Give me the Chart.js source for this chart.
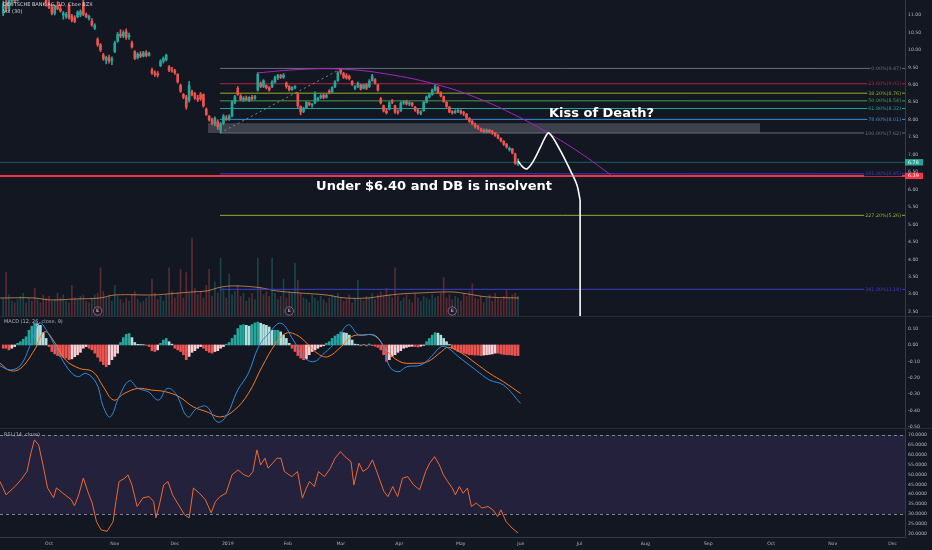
<!DOCTYPE html>
<html>
<head>
<meta charset="utf-8">
<script src="https://cdn.jsdelivr.net/npm/chart.js@4.4.1/dist/chart.umd.min.js"></script>
<style>
  html, body { margin: 0; padding: 0; background: #131722; }
  #wrap { position: relative; width: 932px; height: 550px; overflow: hidden; background: #131722; }
  canvas { position: absolute; left: 0; }
  .sep { position: absolute; left: 0; width: 932px; height: 1px; background: #2a2e39; }
</style>
</head>
<body>
<div id="wrap">
  <canvas id="main" width="932" height="317" style="top:0"></canvas>
  <canvas id="macd" width="932" height="112" style="top:317px"></canvas>
  <canvas id="rsi" width="932" height="121" style="top:429px"></canvas>
  <div class="sep" style="top:316px"></div>
  <div class="sep" style="top:428px"></div>
</div>
<script>
// bar index: 0 = first trading day of Oct 2018
const firstBar = -16;

// daily candles [open, high, low, close], Sep 2018 .. end of May 2019
const ohlc = [
  [11.05,11.40,10.98,11.32],[11.30,11.45,11.10,11.18],[11.18,11.50,11.12,11.42],[11.40,11.60,11.30,11.55],
  [11.55,11.70,11.35,11.40],[11.42,11.75,11.40,11.68],[11.70,11.90,11.62,11.82],[11.82,12.05,11.75,11.98],
  [11.98,12.10,11.80,11.85],[11.85,12.00,11.70,11.92],[11.92,12.08,11.78,11.80],[11.80,11.95,11.62,11.70],
  [11.70,11.85,11.55,11.78],[11.78,11.90,11.60,11.65],[11.65,11.80,11.48,11.60],[11.55,11.62,11.25,11.32],
  // Oct 2018
  [11.32,11.42,11.18,11.22],[11.22,11.30,11.00,11.05],[11.05,11.28,11.00,11.25],[11.28,11.38,11.15,11.18],
  [11.18,11.30,11.08,11.12],[11.00,11.10,10.88,11.05],[10.95,11.08,10.90,11.02],[11.28,11.32,10.88,10.92],
  [10.98,11.02,10.80,10.85],[10.92,10.98,10.78,10.82],[10.95,11.12,10.92,11.08],[11.00,11.15,10.95,11.10],
  [11.30,11.42,10.98,11.02],[11.02,11.06,10.92,10.95],[10.90,11.00,10.85,10.96],[10.82,10.90,10.68,10.72],
  [10.62,10.75,10.58,10.70],[10.30,10.35,10.10,10.15],[10.15,10.18,9.95,10.00],[9.85,9.90,9.70,9.75],
  [9.70,9.82,9.60,9.78],[9.78,9.85,9.62,9.68],[9.70,9.80,9.58,9.74],
  // Nov 2018
  [9.95,10.25,9.92,10.20],[10.25,10.50,10.22,10.45],[10.45,10.58,10.35,10.40],[10.40,10.55,10.35,10.50],
  [10.52,10.60,10.30,10.36],[10.38,10.48,10.30,10.42],[10.20,10.25,10.05,10.08],[9.95,9.98,9.72,9.76],
  [9.78,9.92,9.74,9.88],[9.88,9.95,9.78,9.82],[9.82,9.96,9.80,9.92],[9.92,9.98,9.80,9.84],
  [9.84,9.94,9.82,9.90],[9.42,9.48,9.30,9.34],[9.34,9.40,9.24,9.30],[9.32,9.38,9.22,9.28],
  [9.55,9.72,9.52,9.68],[9.68,9.80,9.62,9.76],[9.72,9.88,9.68,9.85],[9.52,9.55,9.38,9.42],
  [9.42,9.50,9.36,9.40],
  // Dec 2018
  [9.40,9.44,9.30,9.35],[9.30,9.32,9.05,9.08],[8.98,9.02,8.78,8.82],[8.72,8.75,8.60,8.65],
  [8.65,8.70,8.30,8.36],[8.55,9.10,8.50,8.98],[8.80,8.85,8.68,8.72],[8.75,8.78,8.58,8.62],
  [8.62,8.70,8.52,8.58],[8.72,8.78,8.55,8.60],[8.72,8.74,8.36,8.40],[8.30,8.34,8.12,8.15],
  [8.10,8.12,7.96,8.00],[8.00,8.05,7.85,7.90],[7.88,8.08,7.82,8.04],[7.95,8.00,7.72,7.80],
  [7.70,7.92,7.62,7.88],[7.90,8.15,7.86,8.10],[8.05,8.12,7.98,8.02],
  // Jan 2019
  [8.02,8.14,7.98,8.10],[8.10,8.55,8.08,8.50],[8.50,8.70,8.45,8.66],[8.90,8.95,8.70,8.72],
  [8.68,8.72,8.55,8.58],[8.58,8.66,8.52,8.62],[8.62,8.68,8.55,8.58],[8.56,8.66,8.52,8.64],
  [8.64,8.70,8.56,8.60],[8.62,8.70,8.58,8.66],[8.85,9.35,8.82,9.30],[9.05,9.08,8.92,8.95],
  [8.95,9.15,8.92,9.12],[8.98,9.00,8.88,8.92],[8.92,8.95,8.82,8.85],[8.95,9.12,8.92,9.08],
  [9.08,9.25,9.05,9.20],[9.20,9.30,9.15,9.26],[9.26,9.30,9.18,9.22],[9.22,9.32,9.18,9.28],
  [9.05,9.08,8.90,8.95],
  // Feb 2019
  [8.95,8.98,8.82,8.86],[8.86,8.95,8.84,8.92],[8.92,8.98,8.88,8.96],[8.75,8.78,8.35,8.40],
  [8.38,8.40,8.14,8.22],[8.24,8.36,8.20,8.32],[8.34,8.52,8.32,8.50],[8.48,8.50,8.40,8.44],
  [8.42,8.46,8.36,8.42],[8.48,8.80,8.46,8.76],[8.56,8.64,8.54,8.62],[8.64,8.72,8.60,8.68],
  [8.70,8.74,8.60,8.64],[8.64,8.74,8.62,8.70],[8.82,8.86,8.74,8.78],[8.80,8.95,8.78,8.92],
  [8.94,9.12,8.92,9.08],[9.12,9.38,9.10,9.34],[9.44,9.47,9.30,9.36],
  // Mar 2019
  [9.32,9.36,9.18,9.22],[9.26,9.32,9.16,9.20],[9.24,9.28,9.14,9.18],[9.10,9.12,8.98,9.02],
  [8.90,8.98,8.86,8.95],[8.95,9.08,8.92,9.05],[9.00,9.02,8.85,8.88],[8.90,9.02,8.88,9.00],
  [9.00,9.04,8.86,8.90],[8.95,9.15,8.92,9.10],[9.12,9.30,9.10,9.25],[9.15,9.18,9.02,9.05],
  [9.00,9.02,8.82,8.85],[8.60,8.64,8.45,8.48],[8.40,8.42,8.22,8.25],[8.25,8.30,8.16,8.20],
  [8.30,8.52,8.28,8.48],[8.52,8.58,8.46,8.50],[8.40,8.42,8.18,8.22],[8.22,8.28,8.16,8.20],
  [8.25,8.52,8.24,8.48],
  // Apr 2019
  [8.48,8.55,8.44,8.50],[8.52,8.56,8.42,8.45],[8.45,8.52,8.40,8.48],[8.48,8.50,8.38,8.42],
  [8.36,8.38,8.24,8.28],[8.28,8.30,8.16,8.20],[8.18,8.26,8.14,8.22],[8.26,8.52,8.24,8.50],
  [8.50,8.68,8.48,8.65],[8.65,8.76,8.62,8.72],[8.72,8.88,8.70,8.85],[8.85,9.00,8.82,8.95],
  [8.92,8.95,8.75,8.78],[8.78,8.80,8.65,8.68],[8.66,8.68,8.50,8.52],[8.50,8.52,8.35,8.38],
  [8.36,8.38,8.20,8.22],[8.22,8.26,8.16,8.20],[8.20,8.28,8.18,8.24],[8.24,8.30,8.20,8.25],
  [8.25,8.28,8.16,8.20],
  // May 2019
  [8.20,8.24,8.12,8.18],[8.16,8.18,8.02,8.05],[8.04,8.06,7.92,7.95],[7.95,7.98,7.85,7.88],
  [7.86,7.90,7.76,7.80],[7.80,7.84,7.72,7.76],[7.74,7.76,7.66,7.70],[7.70,7.74,7.62,7.66],
  [7.64,7.74,7.62,7.70],[7.70,7.72,7.62,7.65],[7.66,7.70,7.58,7.62],[7.62,7.64,7.52,7.55],
  [7.55,7.58,7.45,7.48],[7.46,7.48,7.36,7.40],[7.38,7.40,7.26,7.30],[7.30,7.32,7.18,7.22],
  [7.14,7.22,7.10,7.18],[7.16,7.18,7.02,7.05],[7.02,7.04,6.72,6.75],[6.72,6.88,6.68,6.78]
];

// daily volume, millions of shares
const volumes = [
  12,28,14,10,9,11,13,15,9,12,10,18,11,9,14,12,
  13,10,11,15,12,14,10,9,20,12,  11,13,14,10,9,12,14,15,31,16,
  12,14,10,20,13,11,9,12,10,14,  16,11,9,10,12,13,24,15,11,13,
  10,14,31,16,12,15,30,12,28,15, 50,18,14,16,12,20,30,13,22,15,
  37,18,12,27,14,16,20,13,15,10, 12,15,11,37,19,14,16,13,37,15,
  11,13,24,12,16,15,34,23,15,12, 11,9,14,12,10,13,11,9,12,14,
  13,15,12,10,11,14,9,12,23,11,  10,13,12,15,11,14,16,13,18,14,
  12,31,13,10,12,14,11,9,15,12,  10,13,12,11,14,12,13,15,25,12,
  14,11,13,12,10,15,13,16,21,12, 11,13,9,12,14,10,15,12,11,13,
  17,12,14,15,13
];

// Vol (30) moving average, read as [bar, value]
const volumeMA = [
  [-17.1,12.0],[-5.2,12.0],[0.3,10.8],[9.8,11.4],[17.8,12.0],[23.1,13.9],[36.4,13.9],[42.0,14.6],
  [50.0,15.8],[55.2,16.5],[60.5,19.0],[66.1,19.6],[74.1,18.4],[79.4,16.5],[87.4,15.2],[96.9,13.9],
  [103.5,12.0],[111.5,12.0],[116.8,13.3],[123.4,14.6],[130.1,15.2],[140.9,15.8],[146.2,14.6],
  [153.1,12.7],[164.3,12.0]
];

// MACD (12, 26, close, 9) histogram, one value per bar
const macdHist = [
  -0.02,-0.02,-0.03,-0.02,-0.01,0.01,0.02,0.035,0.05,0.09,0.115,0.133,0.13,0.12,0.075,0.04,
  -0.01,-0.04,-0.055,-0.065,-0.07,-0.075,-0.08,-0.09,-0.085,-0.072,
  -0.06,-0.045,-0.02,-0.01,-0.02,-0.03,-0.05,-0.075,-0.10,-0.12,
  -0.133,-0.12,-0.09,-0.07,-0.05,0.015,0.045,0.065,0.07,0.045,
  0.015,0.004,0.003,0.002,-0.002,-0.01,-0.035,-0.04,-0.03,0.01,
  0.03,0.04,0.02,0.005,-0.02,-0.03,-0.04,-0.06,-0.09,-0.07,
  -0.045,-0.035,-0.02,-0.01,-0.02,-0.035,-0.045,-0.05,-0.04,-0.035,
  -0.02,-0.01,0.005,0.015,0.04,0.06,0.10,0.12,0.124,0.12,
  0.115,0.125,0.135,0.14,0.133,0.125,0.12,0.11,0.09,0.09,
  0.09,0.08,0.06,0.04,0.01,-0.02,-0.04,-0.065,-0.08,-0.09,
  -0.085,-0.06,-0.04,-0.03,-0.02,-0.01,-0.005,0.01,0.02,0.04,
  0.055,0.065,0.08,0.075,0.072,0.06,0.03,0.005,0.003,-0.005,
  0.004,-0.006,0.006,-0.004,-0.008,-0.015,-0.03,-0.06,-0.10,-0.09,
  -0.07,-0.06,-0.045,-0.035,-0.02,-0.015,-0.01,-0.008,-0.01,-0.012,
  -0.008,-0.003,0.02,0.04,0.06,0.075,0.072,0.06,0.04,0.02,
  0.003,-0.02,-0.03,-0.04,-0.045,-0.05,-0.055,-0.06,-0.06,-0.062,
  -0.062,-0.065,-0.062,-0.06,-0.058,-0.055,-0.05,-0.05,-0.055,-0.058,
  -0.06,-0.06,-0.062,-0.065,-0.065
];

// MACD and signal lines, read as [bar, value]
const macdLine = [
  [-17.1,-0.128],[-13.5,-0.153],[-9.9,-0.123],[-6.3,0.010],[-3.3,0.133],[-0.3,0.072],[3.4,-0.051],
  [7.0,-0.153],[10.0,-0.194],[13.0,-0.174],[16.6,-0.235],[19.0,-0.378],[21.4,-0.440],[24.5,-0.317],
  [28.1,-0.219],[31.1,-0.266],[34.7,-0.286],[38.3,-0.337],[41.3,-0.266],[44.3,-0.297],[48.5,-0.440],
  [51.6,-0.389],[55.2,-0.378],[58.8,-0.470],[61.8,-0.440],[66.0,-0.276],[69.7,-0.174],[73.3,-0.010],
  [76.9,0.072],[81.1,0.133],[85.4,0.031],[89.0,-0.072],[92.6,-0.102],[96.2,-0.051],[100.4,0.020],
  [104.6,0.123],[108.3,0.061],[113.1,0.061],[116.7,0.000],[119.1,-0.133],[122.1,-0.164],[125.1,-0.133],
  [130.0,-0.123],[133.6,-0.072],[137.2,-0.010],[139.6,-0.020],[143.2,-0.072],[149.2,-0.153],
  [154.1,-0.215],[158.9,-0.245],[164.9,-0.358]
];
const signalLine = [
  [-17.1,-0.112],[-13.5,-0.157],[-9.9,-0.143],[-5.1,-0.031],[-1.5,0.081],[2.2,0.010],[5.8,-0.092],
  [10.6,-0.143],[15.4,-0.164],[19.0,-0.256],[22.6,-0.337],[26.3,-0.297],[31.1,-0.266],[35.9,-0.276],
  [40.7,-0.286],[45.5,-0.317],[50.4,-0.378],[55.2,-0.409],[60.0,-0.440],[64.8,-0.399],[69.7,-0.297],
  [74.5,-0.133],[79.3,0.010],[82.9,0.072],[86.6,0.061],[90.2,0.010],[93.8,-0.051],[97.4,-0.072],
  [102.2,-0.010],[105.8,0.051],[109.4,0.061],[114.3,0.055],[117.9,-0.031],[122.7,-0.102],
  [127.6,-0.112],[132.4,-0.102],[137.2,-0.041],[139.6,-0.014],[144.4,-0.051],[149.2,-0.112],
  [154.1,-0.174],[158.9,-0.225],[164.9,-0.297]
];

// RSI (14, close), read as [bar, value]
const rsiLine = [
  [-17.1,46.4],[-15.0,39.7],[-11.9,43.9],[-9.8,47.3],[-7.7,51.5],[-6.3,60.9],[-5.1,67.5],[-3.6,64.9],
  [-2.1,54.8],[-0.5,43.2],[1.6,38.2],[2.6,43.2],[4.7,40.7],[7.8,37.2],[8.9,34.1],[10.4,39.7],[12.0,48.2],
  [13.6,41.2],[15.1,35.6],[16.6,26.1],[18.2,22.0],[20.3,21.2],[22.4,26.1],[23.4,36.3],[24.5,46.4],
  [26.6,48.2],[27.6,49.8],[29.0,44.7],[30.8,33.8],[32.9,38.2],[35.0,38.8],[36.6,36.3],[37.4,28.1],
  [38.6,34.6],[40.1,44.7],[41.6,46.4],[43.2,39.7],[45.3,34.6],[47.4,29.6],[49.0,28.0],[50.5,43.1],
  [52.6,40.5],[54.7,37.2],[56.7,30.6],[58.2,36.3],[59.8,38.8],[61.9,40.5],[64.0,49.8],[66.1,52.3],
  [68.2,49.8],[69.9,48.9],[71.3,51.5],[72.7,62.4],[74.0,54.8],[75.5,58.2],[76.6,53.2],[78.2,55.7],
  [79.7,58.2],[81.1,58.2],[82.3,51.5],[84.9,48.9],[86.9,51.5],[88.6,38.0],[90.0,43.1],[91.1,46.4],
  [92.8,43.9],[94.2,51.5],[96.3,48.9],[98.4,53.2],[100.0,58.2],[101.9,61.6],[103.5,59.0],[105.6,56.5],
  [106.6,44.7],[108.4,55.7],[109.8,51.5],[111.5,53.2],[113.1,57.4],[114.8,50.7],[117.1,41.4],
  [118.5,38.8],[120.2,43.9],[121.9,38.8],[123.6,48.1],[125.4,48.9],[127.5,44.7],[129.6,42.2],
  [131.7,51.5],[133.1,55.7],[134.8,59.0],[136.5,54.8],[137.9,49.8],[139.4,46.4],[141.0,43.1],
  [142.1,39.7],[143.5,43.9],[144.8,40.5],[146.3,43.1],[147.7,33.8],[149.4,35.5],[151.4,33.0],
  [153.5,33.8],[155.2,32.1],[156.9,28.7],[158.0,32.1],[159.8,26.2],[161.9,22.9],[164.0,20.4]
];

// axis ticks
const monthTicks = [0, 23, 44, 62.5, 83.5, 102, 122.5, 144, 165, 185.5, 208.5, 230.5, 252.5, 274, 295];
const monthLabels = ['Oct','Nov','Dec','2019','Feb','Mar','Apr','May','Jun','Jul','Aug','Sep','Oct','Nov','Dec'];
const priceTicks = [2.5,3,3.5,4,4.5,5,5.5,6,6.5,7,7.5,8,8.5,9,9.5,10,10.5,11];
const macdTicks = [0.1,0,-0.1,-0.2,-0.3,-0.4,-0.5];
const rsiTicks = [70,65,60,55,50,45,40,35,30,25,20];

// Fibonacci retracement drawn from the Dec low to the Mar high
const fibPct = ['0.00%','23.60%','38.20%','50.00%','61.80%','78.60%','100.00%','161.80%','227.20%','341.80%'];
const fibLevels = [9.47, 9.03, 8.76, 8.54, 8.32, 8.01, 7.62, 6.45, 5.26, 3.14];
const fibColors = ['#6a6d78','#b02445','#93b02c','#45a04a','#22a596','#3f8fd6','#6a6d78','#3b3fd0','#93b02c','#3b3fd0'];
const fibStart = 59.8;
const fibTrend = [[59.8, 7.62], [102.4, 9.47]];

// drawings
const supportZone = { from: 55.6, to: 248.6, low: 7.62, high: 7.90 };
const arcPoints = [[72.7,9.34],[87.8,9.44],[101.7,9.45],[115.7,9.34],[135.0,9.02],[150.7,8.59],
                   [165.7,8.02],[174.5,7.62],[185.7,7.05],[196.9,6.39]];
const pathPoints = [[164.0,6.82],[165.7,6.64],[167.1,6.59],[169.2,6.79],[171.7,7.19],[173.4,7.48],
                    [174.8,7.62],[178.7,7.13],[182.2,6.56],[184.6,6.13],[185.7,5.70]];
const dropPoints = [[185.7,5.70],[185.7,2.0]];
const insolvency = 6.39;
const lastClose = 6.78;
const earningsBars = [17, 84, 141];
const notes = [
  { text: 'Kiss of Death?', bar: 174.8, price: 8.18 },
  { text: 'Under $6.40 and DB is insolvent', bar: 93.4, price: 6.08 }
];

const xMin = -17.13, xMax = 299.3;
const FONT = 'DejaVu Sans';
const up = '#26a69a', down = '#ef5350';

const bars = ohlc.map((d, k) => firstBar + k);
const candleColors = ohlc.map(d => d[3] >= d[0] ? up : down);
const volColors = ohlc.map(d => d[3] >= d[0] ? 'rgba(38,166,154,0.32)' : 'rgba(239,83,80,0.32)');
const pts = arr => arr.map(p => ({ x: p[0], y: p[1] }));
const hline = (v, from) => [{ x: from, y: v }, { x: xMax, y: v }];

function rightAxis(min, max, tickValues, digits) {
  return {
    position: 'right', min: min, max: max,
    afterBuildTicks: s => { s.ticks = tickValues.map(v => ({ value: v })); },
    afterFit: s => { s.width = 27; s.paddingTop = 0; s.paddingBottom = 0; },
    grid: { display: false, drawTicks: false },
    border: { display: true, color: '#363a45' },
    ticks: { color: '#b2b5be', font: { family: FONT, size: 4.6 }, padding: 3, autoSkip: false,
             callback: v => Number(v).toFixed(digits) }
  };
}

function xAxis(show) {
  return {
    type: 'linear', min: xMin, max: xMax, display: show, offset: false,
    afterBuildTicks: s => { s.ticks = monthTicks.map(v => ({ value: v })); },
    afterFit: s => { if (show) s.height = 13; s.paddingLeft = 0; s.paddingRight = 0; },
    grid: { display: false, drawTicks: false },
    border: { display: show, color: '#363a45' },
    ticks: { color: '#b2b5be', font: { family: FONT, size: 4.6 }, padding: 4, maxRotation: 0,
             autoSkip: false, callback: (v, i) => monthLabels[i] }
  };
}

const baseOptions = {
  responsive: false,
  animation: false,
  events: [],
  layout: { padding: 0 },
  plugins: { legend: { display: false }, tooltip: { enabled: false } },
  datasets: { bar: { grouped: false }, line: { pointRadius: 0 } }
};

function paneTitle(ctx, lines) {
  ctx.save();
  ctx.font = '5px "' + FONT + '"';
  ctx.textBaseline = 'middle';
  ctx.textAlign = 'left';
  lines.forEach(l => { ctx.fillStyle = l.color; ctx.fillText(l.text, l.x, l.y); });
  ctx.restore();
}

const mainDecor = {
  id: 'mainDecor',
  beforeDatasetsDraw(chart) {
    const { ctx, chartArea: a, scales: { x, y } } = chart;
    ctx.save();
    ctx.beginPath(); ctx.rect(a.left, a.top, a.width, a.height); ctx.clip();
    const x0 = x.getPixelForValue(supportZone.from), x1 = x.getPixelForValue(supportZone.to);
    const y0 = y.getPixelForValue(supportZone.high), y1 = y.getPixelForValue(supportZone.low);
    ctx.fillStyle = 'rgba(120,123,134,0.42)';
    ctx.fillRect(x0, y0, x1 - x0, y1 - y0);
    ctx.restore();
  },
  afterDatasetsDraw(chart) {
    const { ctx, chartArea: a, scales: { x, y } } = chart;
    ctx.save();
    // fib labels
    ctx.font = '4.8px "' + FONT + '"';
    ctx.textAlign = 'right';
    ctx.textBaseline = 'middle';
    fibLevels.forEach((lv, k) => {
      const t = fibPct[k] + '(' + lv.toFixed(2) + ')';
      const py = y.getPixelForValue(lv);
      const w = ctx.measureText(t).width;
      ctx.fillStyle = '#131722';
      ctx.fillRect(a.right - 4 - w - 1, py - 2.5, w + 2, 5);
      ctx.fillStyle = fibColors[k];
      ctx.fillText(t, a.right - 4, py + 0.3);
    });
    // earnings markers
    earningsBars.forEach(b => {
      const px = x.getPixelForValue(b), py = a.bottom - 6;
      ctx.beginPath(); ctx.arc(px, py, 4.2, 0, Math.PI * 2);
      ctx.fillStyle = '#1c1d29'; ctx.fill();
      ctx.strokeStyle = 'rgba(170,110,150,0.8)'; ctx.lineWidth = 1; ctx.stroke();
      ctx.fillStyle = '#b99ab0'; ctx.font = 'bold 4.5px "' + FONT + '"'; ctx.textAlign = 'center';
      ctx.fillText('E', px, py + 0.3);
    });
    // annotations
    ctx.font = 'bold 13px "' + FONT + '"';
    ctx.textAlign = 'left';
    ctx.fillStyle = '#ffffff';
    notes.forEach(n => ctx.fillText(n.text, x.getPixelForValue(n.bar), y.getPixelForValue(n.price)));
    ctx.restore();
  },
  afterDraw(chart) {
    const { ctx, chartArea: a, scales: { y } } = chart;
    ctx.save();
    ctx.font = '4.8px "' + FONT + '"';
    ctx.textBaseline = 'middle';
    ctx.textAlign = 'left';
    [[lastClose, up], [insolvency, '#f23645']].forEach(([v, c]) => {
      const py = y.getPixelForValue(v);
      ctx.fillStyle = c;
      ctx.fillRect(a.right, py - 3.2, 18, 6.4);
      ctx.fillStyle = '#ffffff';
      ctx.fillText(v.toFixed(2), a.right + 3, py + 0.3);
    });
    ctx.restore();
    paneTitle(ctx, [
      { text: 'DEUTSCHE BANK AG, 1D, Cboe BZX', x: 3, y: 5, color: '#d1d4dc' },
      { text: 'Vol (30)', x: 3, y: 11.5, color: '#d1d4dc' }
    ]);
  }
};

const mainDatasets = [
  { type: 'bar', yAxisID: 'yv', order: 9, barThickness: 1,
    data: volumes.map((v, k) => ({ x: bars[k], y: v })), backgroundColor: volColors },
  { type: 'line', yAxisID: 'yv', order: 8, borderColor: 'rgba(210,140,90,0.8)', borderWidth: 1,
    tension: 0.4, data: pts(volumeMA) },
  ...fibLevels.map((lv, k) => ({ type: 'line', order: 7, borderColor: fibColors[k], borderWidth: 1,
    data: hline(lv, fibStart) })),
  { type: 'line', order: 6, borderColor: 'rgba(38,166,154,0.5)', borderWidth: 1,
    data: hline(lastClose, xMin) },
  { type: 'line', order: 5, borderColor: 'rgba(150,155,165,0.8)', borderWidth: 1, borderDash: [2, 3],
    data: pts(fibTrend) },
  { type: 'bar', order: 4, barThickness: 1, backgroundColor: candleColors,
    data: ohlc.map((d, k) => ({ x: bars[k], y: [d[2], d[1]] })) },
  { type: 'bar', order: 3, barThickness: 2, minBarLength: 1, backgroundColor: candleColors,
    data: ohlc.map((d, k) => ({ x: bars[k], y: [d[0], d[3]] })) },
  { type: 'line', order: 2, borderColor: '#f23645', borderWidth: 2, data: hline(insolvency, xMin) },
  { type: 'line', order: 1, borderColor: '#a624c4', borderWidth: 1, tension: 0.4, data: pts(arcPoints) },
  { type: 'line', order: 0, borderColor: '#ffffff', borderWidth: 1.6, tension: 0.35, data: pts(pathPoints) },
  { type: 'line', order: 0, borderColor: '#ffffff', borderWidth: 1.6, data: pts(dropPoints) }
];

new Chart(document.getElementById('main'), {
  type: 'bar',
  data: { datasets: mainDatasets },
  options: Object.assign({}, baseOptions, {
    scales: {
      x: xAxis(false),
      y: rightAxis(2.347, 11.43, priceTicks, 2),
      yv: { display: false, min: 0, max: 200 }
    }
  }),
  plugins: [mainDecor]
});

// MACD pane
const histColors = macdHist.map((v, k) => {
  const prev = k > 0 ? macdHist[k - 1] : v;
  if (v >= 0) return v >= prev ? '#26a69a' : '#b2dfdb';
  return v <= prev ? '#ef5350' : '#ffcdd2';
});

new Chart(document.getElementById('macd'), {
  type: 'bar',
  data: {
    datasets: [
      { type: 'bar', order: 2, barThickness: 2, backgroundColor: histColors,
        data: macdHist.map((v, k) => ({ x: bars[k], y: v })) },
      { type: 'line', order: 1, borderColor: '#ff7a1a', borderWidth: 1, tension: 0.4, data: pts(signalLine) },
      { type: 'line', order: 0, borderColor: '#2a8ee6', borderWidth: 1, tension: 0.4, data: pts(macdLine) }
    ]
  },
  options: Object.assign({}, baseOptions, {
    scales: { x: xAxis(false), y: rightAxis(-0.514, 0.171, macdTicks, 2) }
  }),
  plugins: [{
    id: 'macdTitle',
    afterDraw(chart) {
      paneTitle(chart.ctx, [{ text: 'MACD (12, 26, close, 9)', x: 4, y: 5, color: '#b2b5be' }]);
    }
  }]
});

// RSI pane
new Chart(document.getElementById('rsi'), {
  type: 'line',
  data: {
    datasets: [
      { borderColor: '#f0692f', borderWidth: 1, tension: 0, data: pts(rsiLine) }
    ]
  },
  options: Object.assign({}, baseOptions, {
    scales: { x: xAxis(true), y: rightAxis(18.35, 73.0, rsiTicks, 4) }
  }),
  plugins: [{
    id: 'rsiBand',
    beforeDatasetsDraw(chart) {
      const { ctx, chartArea: a, scales: { y } } = chart;
      const top = y.getPixelForValue(70), bot = y.getPixelForValue(30);
      ctx.save();
      ctx.fillStyle = 'rgba(126,87,194,0.16)';
      ctx.fillRect(a.left, top, a.width, bot - top);
      ctx.strokeStyle = 'rgba(178,181,190,0.7)';
      ctx.setLineDash([3, 3]);
      ctx.lineWidth = 1;
      [top, bot].forEach(py => {
        ctx.beginPath(); ctx.moveTo(a.left, Math.round(py) + 0.5); ctx.lineTo(a.right, Math.round(py) + 0.5); ctx.stroke();
      });
      ctx.restore();
    },
    afterDraw(chart) {
      paneTitle(chart.ctx, [{ text: 'RSI (14, close)', x: 4, y: 6, color: '#b2b5be' }]);
    }
  }]
});
</script>
</body>
</html>
